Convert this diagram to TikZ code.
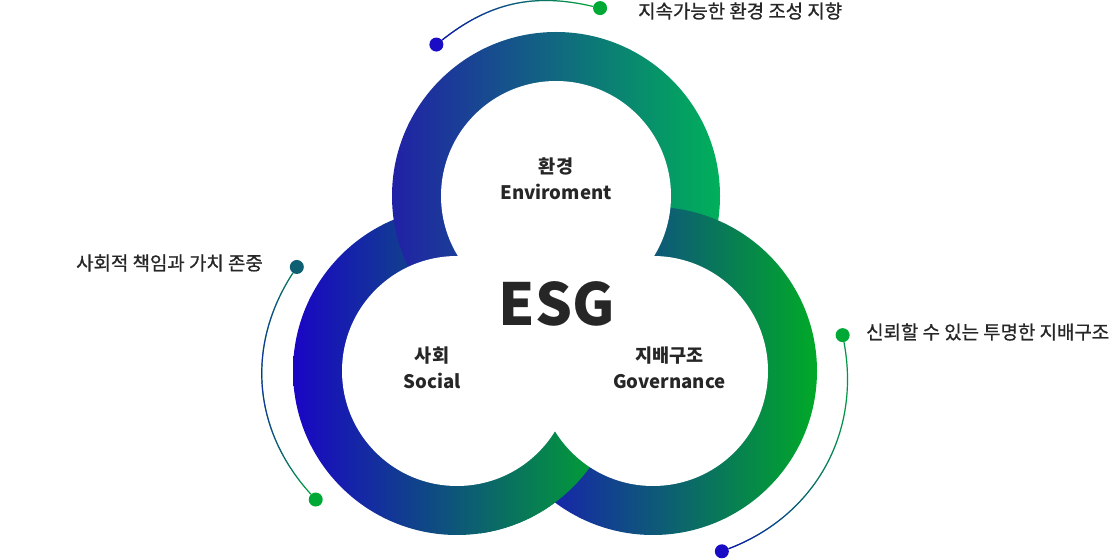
\documentclass[tikz,border=0pt]{standalone}
\usepackage{fontspec}
\setmainfont{Noto Sans CJK KR}
\newfontfamily\notefont{Noto Sans CJK KR}[FakeBold=0.8]
\usetikzlibrary{calc,fadings}
\definecolor{ESGBlue}{HTML}{1A0CC4}
\definecolor{ESGGreen}{HTML}{00A836}
\definecolor{ESGTeal}{HTML}{0E5F72}
\definecolor{ESGText}{HTML}{262626}
\definecolor{TopBlue}{HTML}{2121A6}
\definecolor{TopMid}{HTML}{08866F}
\definecolor{TopGreen}{HTML}{00B05A}
\definecolor{SocBlue}{HTML}{1A05C5}
\definecolor{SocMid}{HTML}{105E74}
\definecolor{SocGreen}{HTML}{00AA2A}
\definecolor{GovBlue}{HTML}{1C06CA}
\definecolor{GovMid}{HTML}{13468A}
\definecolor{GovGreen}{HTML}{00AA28}

\begin{document}
\begin{tikzpicture}[x=1pt,y=1pt,
  dot/.style={circle,inner sep=0pt,minimum size=14pt},
  desc/.style={inner sep=0pt,anchor=west,text=ESGText,
    font=\notefont\fontsize{18.9}{22}\selectfont},
  ringtext/.style={inner sep=0pt,align=center,text=ESGText,
    font=\bfseries\fontsize{18.6}{26}\selectfont},
  link/.style={line width=1.2pt},
  topband/.style={left color=TopBlue,middle color=TopMid,right color=TopGreen},
  socband/.style={left color=SocBlue,middle color=SocMid,right color=SocGreen},
  govband/.style={left color=GovBlue,middle color=GovMid,right color=GovGreen}
]
\useasboundingbox (0,0) rectangle (1112,560);
\coordinate (T) at (556,364);
\coordinate (L) at (457,189);
\coordinate (R) at (653,189);

% three rings, each one lies over the next
\shade[socband] (L) circle[radius=164];
\shade[topband] (T) circle[radius=164];
\shade[govband] (R) circle[radius=164];
\begin{scope}
  \clip (480,0) rectangle (720,140);
  \shade[socband] (L) circle[radius=164];
\end{scope}
\fill[white] (L) circle[radius=115];
\fill[white] (T) circle[radius=115];
\fill[white] (R) circle[radius=115];

\node[ringtext] (env) at (556,381.5) {환경\\Enviroment};
\node[ringtext] (soc) at (432,192) {사회\\Social};
\node[ringtext] (gov) at (669.5,192) {지배구조\\Governance};
\node[text=ESGText,font=\bfseries\fontsize{58}{58}\selectfont,inner sep=0pt]
  (esg) at (557,256) {ESG};

% outer remarks
\node[dot,fill=ESGBlue] (t1) at ($(T)+(128.3:193)$) {};
\node[dot,fill=ESGGreen] (t2) at ($(T)+(76.8:193)$) {};
\node[dot,fill=ESGTeal] (l1) at ($(L)+(147:191)$) {};
\node[dot,fill=ESGGreen] (l2) at ($(L)+(222.3:191)$) {};
\node[dot,fill=ESGGreen] (r1) at ($(R)+(10.7:193)$) {};
\node[dot,fill=ESGBlue] (r2) at ($(R)+(-69.1:193)$) {};
\draw[link,ESGGreen] (t1) to[bend left=25.8] (t2);
\draw[link,ESGBlue,path fading=east] (t1) to[bend left=25.8] (t2);
\draw[link,ESGGreen] (l1) to[bend right=37.7] (l2);
\draw[link,ESGBlue,path fading=east] (l1) to[bend right=37.7] (l2);
\draw[link,ESGGreen] (r1) to[bend left=39.9] (r2);
\draw[link,ESGBlue,path fading=east] (r1) to[bend left=39.9] (r2);

\node[desc] (envnote) at (638,549) {지속가능한 환경 조성 지향};
\node[desc] (socnote) at (76,297) {사회적 책임과 가치 존중};
\node[desc] (govnote) at (866,228) {신뢰할 수 있는 투명한 지배구조};
\end{tikzpicture}
\end{document}
